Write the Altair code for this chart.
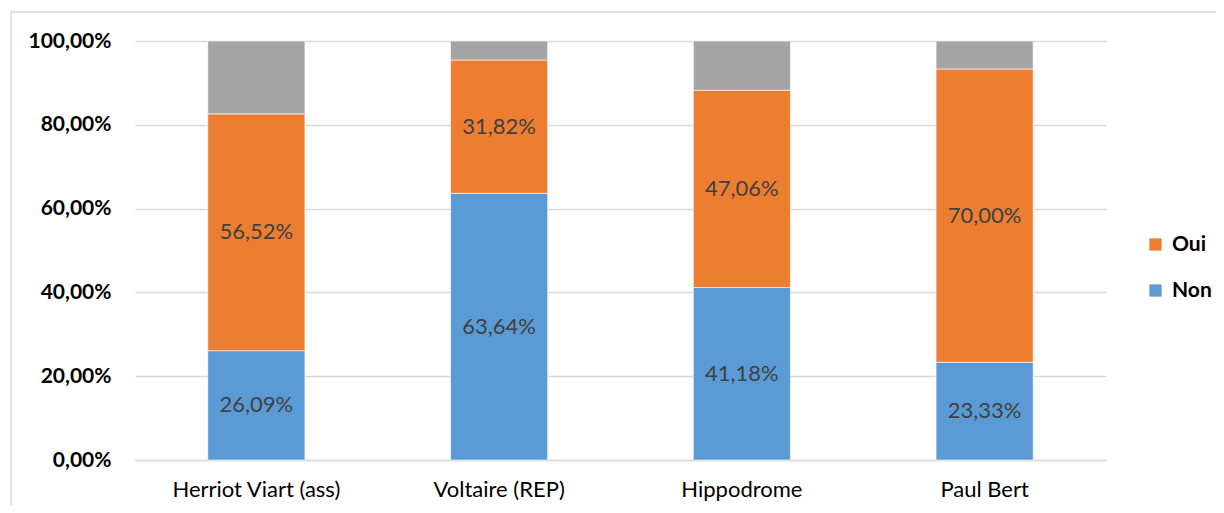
import altair as alt
import pandas as pd

categories = ["Herriot Viart (ass)", "Voltaire (REP)", "Hippodrome", "Paul Bert"]
non_vals = [26.09, 63.64, 41.18, 23.33]
oui_vals = [56.52, 31.82, 47.06, 70.00]
autre_vals = [17.39, 4.54, 11.76, 6.67]

series = ["Non", "Oui", "Autre"]
colors = ["#5B9BD5", "#ED7D31", "#A5A5A5"]

rows = []
for i, c in enumerate(categories):
    for k, (s, vals) in enumerate(zip(series, [non_vals, oui_vals, autre_vals])):
        rows.append({"cat": c, "serie": s, "value": vals[i], "ord": k,
                     "label": ("%.2f" % vals[i]).replace(".", ",") + "%" if s != "Autre" else ""})
df = pd.DataFrame(rows)

FONT = "Lato"
W, H = 971, 419

base = alt.Chart(df).transform_stack(
    stack="value", groupby=["cat"], as_=["v0", "v1"], sort=[{"field": "ord", "order": "ascending"}]
).transform_calculate(mid="(datum.v0 + datum.v1) / 2")

xenc = alt.X("cat:N", sort=categories, title=None,
             scale=alt.Scale(paddingInner=0.6, paddingOuter=0.3),
             axis=alt.Axis(labelAngle=0, ticks=False, domain=True, domainColor="#d9d9d9",
                           domainWidth=1.5, labelFontSize=22, labelFont=FONT, labelColor="#000000",
                           labelPadding=19))

bars = base.mark_bar(stroke="white", strokeWidth=0.6).encode(
    x=xenc,
    y=alt.Y("v0:Q", scale=alt.Scale(domain=[0, 100], nice=False), title=None,
            axis=alt.Axis(values=[0, 20, 40, 60, 80, 100], ticks=False, domain=False,
                          gridColor="#d9d9d9", gridWidth=1.5, labelFontSize=21, labelFont=FONT,
                          labelFontWeight="bold", labelColor="#000000", labelPadding=24,
                          labelExpr="replace(format(datum.value, '.2f'), '.', ',') + '%'")),
    y2="v1:Q",
    color=alt.Color("serie:N", scale=alt.Scale(domain=series, range=colors),
                    legend=alt.Legend(values=["Oui", "Non"], title=None, orient="none",
                                      legendX=1010, legendY=193, symbolType="square",
                                      symbolSize=150, symbolStrokeWidth=0, labelFontSize=21,
                                      labelFont=FONT, labelFontWeight="bold", labelColor="#000000",
                                      rowPadding=24, labelOffset=6)),
    order=alt.Order("ord:Q"),
)

text = base.mark_text(fontSize=22, font=FONT, color="#404040").encode(
    x=alt.X("cat:N", sort=categories),
    y=alt.Y("mid:Q"),
    text="label:N",
)

border = alt.Chart(pd.DataFrame({"a": [0]})).mark_rect(
    fill=None, stroke="#d9d9d9", strokeWidth=1.5
).encode(x=alt.value(-124), x2=alt.value(1224 - 135 + 20),
         y=alt.value(-29), y2=alt.value(513 - 41 + 20))

chart = alt.layer(border, bars, text).properties(
    width=W, height=H,
    autosize=alt.AutoSizeParams(type="none"),
    padding={"left": 127, "top": 33, "right": 110, "bottom": 45},
).configure(background="white", view=alt.ViewConfig(stroke=None))

chart.save("out.html", embed_options={"renderer": "svg", "actions": False})
